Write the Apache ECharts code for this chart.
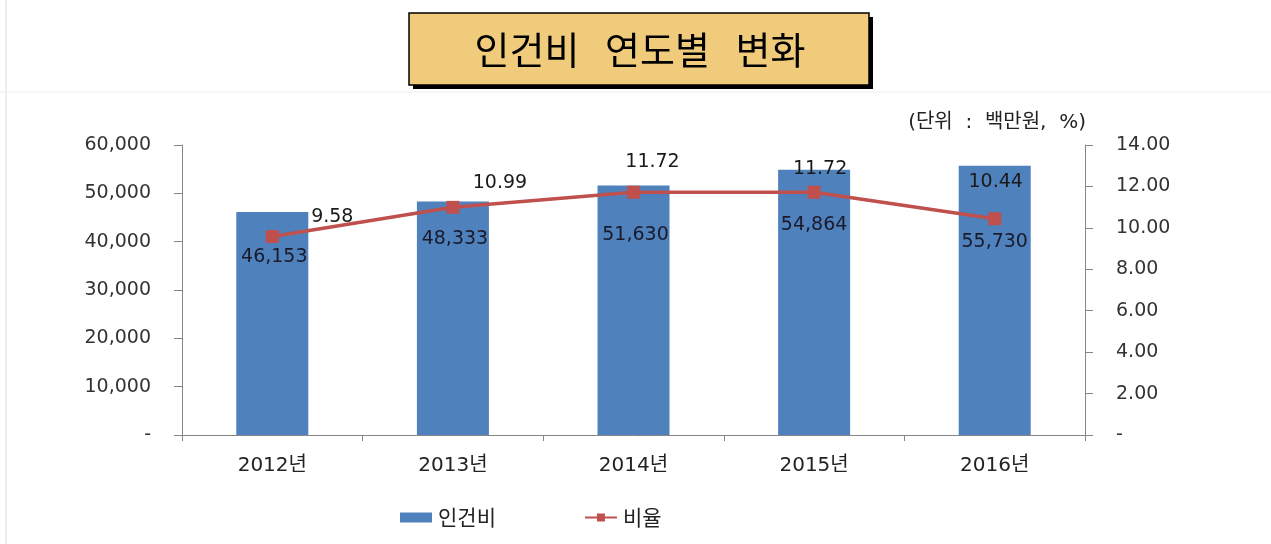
<!DOCTYPE html>
<html>
<head>
<meta charset="utf-8">
<script src="https://cdn.jsdelivr.net/npm/echarts@6/dist/echarts.min.js"></script>
<style>
	html, body { margin: 0; padding: 0; background: #fff; }
	#chart { width: 1271px; height: 544px; }
</style>
</head>
<body>
<div id="chart"></div>
<script>
var years = ['2012년', '2013년', '2014년', '2015년', '2016년'];
var laborCost = [46153, 48333, 51630, 54864, 55730];
var ratio = [9.58, 10.99, 11.72, 11.72, 10.44];

// label nudges
var barLabelOffset = [[2, 31], [2, 23], [2, 35], [0, 41], [0, 62]];
var lineLabelOffset = [[60, -19], [47, -24], [19, -30], [6, -23], [1, -37]];

var dom = document.getElementById('chart');
var myChart = echarts.init(dom);
var font = '"DejaVu Sans"';
var mixFont = '"DejaVu Sans", "Noto Sans CJK KR"';
var krFont = '"Noto Sans CJK KR"';

function fmtLeft(v) {
	return v == 0 ? '-' : v.toLocaleString('en-US');
}
function fmtRight(v) {
	return v == 0 ? '-' : v.toFixed(2);
}

var option = {
	animation: false,
	backgroundColor: '#fff',
	grid: { left: 182, right: 186, top: 145, bottom: 109 },
	legend: {
		left: 395,
		top: 502,
		itemWidth: 32,
		itemHeight: 10,
		itemGap: 88,
		textStyle: { fontFamily: krFont, fontSize: 21, color: '#222', padding: [0, 0, 0, 1] },
		data: [
			{ name: '인건비', icon: 'rect' },
			{ name: '비율' }
		]
	},
	xAxis: {
		type: 'category',
		data: years,
		axisLine: { lineStyle: { color: '#868686', width: 1 } },
		axisTick: { show: true, length: 6, lineStyle: { color: '#868686' } },
		axisLabel: { fontFamily: mixFont, fontSize: 20, color: '#222', margin: 21 }
	},
	yAxis: [
		{
			type: 'value',
			min: 0,
			max: 60000,
			interval: 10000,
			splitLine: { show: false },
			axisLine: { show: true, lineStyle: { color: '#868686' } },
			axisTick: { show: true, length: 8, lineStyle: { color: '#868686' } },
			axisLabel: { fontFamily: font, fontSize: 19, color: '#333', margin: 31, formatter: fmtLeft }
		},
		{
			type: 'value',
			min: 0,
			max: 14,
			interval: 2,
			splitLine: { show: false },
			axisLine: { show: true, lineStyle: { color: '#868686' } },
			axisTick: { show: true, length: 8, lineStyle: { color: '#868686' } },
			axisLabel: { fontFamily: font, fontSize: 19, color: '#333', margin: 31, formatter: fmtRight }
		}
	],
	series: [
		{
			name: '인건비',
			type: 'bar',
			barWidth: 72,
			itemStyle: { color: '#4F81BD' },
			data: laborCost.map(function (v, i) {
				return {
					value: v,
					label: {
						show: true,
						position: 'insideTop',
						offset: barLabelOffset[i],
						fontFamily: font,
						fontSize: 19,
						color: '#1a1a2a',
						formatter: function (p) { return p.value.toLocaleString('en-US'); }
					}
				};
			}),
			z: 2
		},
		{
			name: '비율',
			type: 'line',
			yAxisIndex: 1,
			symbol: 'rect',
			symbolSize: 13,
			lineStyle: { color: '#C0504D', width: 3.5 },
			itemStyle: { color: '#C0504D' },
			data: ratio.map(function (v, i) {
				return {
					value: v,
					label: {
						show: true,
						position: 'inside',
						offset: lineLabelOffset[i],
						fontFamily: font,
						fontSize: 19,
						color: '#1a1a1a',
						formatter: function (p) { return p.value.toFixed(2); }
					}
				};
			}),
			z: 3
		}
	],
	graphic: [
		{ type: 'line', shape: { x1: 0, y1: 92, x2: 1271, y2: 92 }, style: { stroke: '#eeeeee', lineWidth: 1 }, silent: true },
		{ type: 'line', shape: { x1: 6, y1: 0, x2: 6, y2: 544 }, style: { stroke: '#eeeeee', lineWidth: 2 }, silent: true },
		{ type: 'rect', shape: { x: 413, y: 17, width: 460, height: 72 }, style: { fill: '#000' }, silent: true },
		{ type: 'rect', shape: { x: 409, y: 13, width: 460, height: 72 }, style: { fill: '#F0CB7C', stroke: '#000', lineWidth: 1.5 }, silent: true },
		{
			type: 'text',
			style: {
				text: '인건비   연도별   변화',
				x: 640, y: 50,
				align: 'center', verticalAlign: 'middle',
				fontFamily: krFont, fontSize: 38, fill: '#000'
			},
			silent: true
		},
		{
			type: 'text',
			style: {
				text: '(단위  :  백만원,  %)',
				x: 1086, y: 123,
				align: 'right', verticalAlign: 'middle',
				fontFamily: mixFont, fontSize: 20, fill: '#222'
			},
			silent: true
		}
	]
};

if (option && typeof option === "object") {
	myChart.setOption(option, true);
}
</script>
</body>
</html>
